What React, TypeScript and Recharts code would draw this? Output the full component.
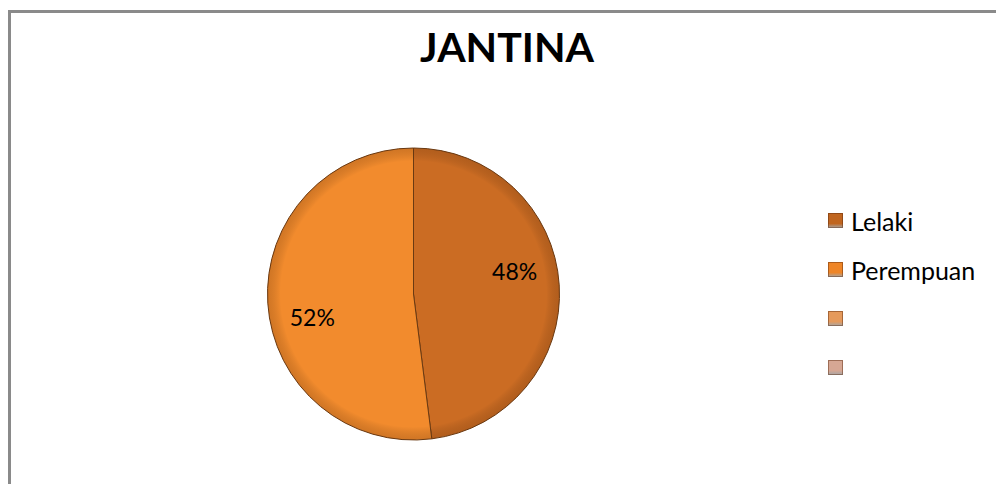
import { Legend, Pie, PieChart } from "recharts";

const TITLE = "JANTINA";
const CATEGORIES = ["Lelaki", "Perempuan", "", ""];
const VALUES = [48, 52];
const SLICE_COLORS = ["#cb6c23", "#f28b2d"];
const LEGEND_COLORS = ["#c0651f", "#ee8527", "#e59a5c", "#d6a794"];

const FONT = "Lato, 'Noto Sans', sans-serif";
const CX = 413.5;
const CY = 294;
const R = 146;
const RAD = Math.PI / 180;

const data = VALUES.map((v, i) => ({ name: CATEGORIES[i], value: v }));

// Excel nudges the labels a bit counterclockwise from the slice middle
function renderLabel(props: any) {
  const { cx, cy, midAngle, outerRadius, percent } = props;
  const a = (midAngle + 9) * RAD;
  const dist = outerRadius * 0.71;
  const x = cx + dist * Math.cos(-a);
  const y = cy + dist * Math.sin(-a);
  return (
    <text
      x={x}
      y={y}
      textAnchor="middle"
      dominantBaseline="central"
      fill="#000"
      fontSize={23}
      fontFamily={FONT}
    >
      {`${Math.round(percent * 100)}%`}
    </text>
  );
}

function LegendBox() {
  return (
    <div style={{ fontFamily: FONT, fontSize: 25, color: "#000" }}>
      {CATEGORIES.map((name, i) => (
        <div
          key={i}
          style={{ display: "flex", alignItems: "center", height: 49 }}
        >
          <span
            style={{
              width: 15,
              height: 15,
              marginRight: 8,
              flexShrink: 0,
              background: `linear-gradient(180deg, ${LEGEND_COLORS[i]} 0%, ${LEGEND_COLORS[i]} 70%, rgba(0,0,0,0.35) 100%)`,
              boxShadow: "inset 0 0 0 1px rgba(90,40,10,0.45)",
            }}
          />
          <span>{name}</span>
        </div>
      ))}
    </div>
  );
}

export default function App() {
  return (
    <div
      style={{
        position: "absolute",
        left: 0,
        top: 0,
        width: 996,
        height: 484,
        overflow: "hidden",
        background: "#fff",
      }}
    >
      <div
        style={{
          position: "absolute",
          left: 8,
          top: 10,
          width: 1010,
          height: 520,
          border: "3px solid #8a8a8a",
          boxSizing: "border-box",
        }}
      />
      <div
        style={{
          position: "absolute",
          left: 0,
          top: 22,
          width: 1014,
          textAlign: "center",
          fontFamily: FONT,
          fontWeight: 700,
          fontSize: 41,
          color: "#000",
        }}
      >
        {TITLE}
      </div>
      <div style={{ position: "absolute", left: 0, top: 0 }}>
        <PieChart
          width={996}
          height={484}
          margin={{ top: 0, right: 0, bottom: 0, left: 0 }}
        >
          <defs>
            {SLICE_COLORS.map((c, i) => (
              <radialGradient
                key={i}
                id={`slice${i}`}
                gradientUnits="userSpaceOnUse"
                cx={CX}
                cy={CY}
                r={R}
              >
                <stop offset="0%" stopColor={c} />
                <stop offset="100%" stopColor={c} />
              </radialGradient>
            ))}
            <radialGradient
              id="rim"
              gradientUnits="userSpaceOnUse"
              cx={CX}
              cy={CY}
              r={R}
            >
              <stop offset="0%" stopColor="#000" stopOpacity={0} />
              <stop offset="91%" stopColor="#000" stopOpacity={0} />
              <stop offset="100%" stopColor="#5a2a05" stopOpacity={0.22} />
            </radialGradient>
          </defs>
          <Pie
            data={data}
            dataKey="value"
            nameKey="name"
            cx={CX}
            cy={CY}
            outerRadius={R}
            startAngle={90}
            endAngle={-270}
            stroke="#6b3a12"
            strokeWidth={1}
            label={renderLabel}
            labelLine={false}
            isAnimationActive={false}
            shape={(p: any) => {
              const idx = data.findIndex((d) => d.name === p.name);
              const s = p.startAngle * RAD;
              const e = p.endAngle * RAD;
              const x1 = p.cx + p.outerRadius * Math.cos(-s);
              const y1 = p.cy + p.outerRadius * Math.sin(-s);
              const x2 = p.cx + p.outerRadius * Math.cos(-e);
              const y2 = p.cy + p.outerRadius * Math.sin(-e);
              const large = Math.abs(p.endAngle - p.startAngle) > 180 ? 1 : 0;
              const sweep = p.startAngle > p.endAngle ? 1 : 0;
              const d = `M${p.cx},${p.cy} L${x1},${y1} A${p.outerRadius},${p.outerRadius} 0 ${large} ${sweep} ${x2},${y2} Z`;
              return (
                <g>
                  <path d={d} fill={`url(#slice${idx})`} stroke="#6b3a12" strokeWidth={1} />
                  <path d={d} fill="url(#rim)" stroke="none" />
                </g>
              );
            }}
          />
          <Legend
            layout="vertical"
            verticalAlign="top"
            align="right"
            content={() => <LegendBox />}
            wrapperStyle={{ left: 828, top: 196, width: 168 }}
          />
        </PieChart>
      </div>
    </div>
  );
}
